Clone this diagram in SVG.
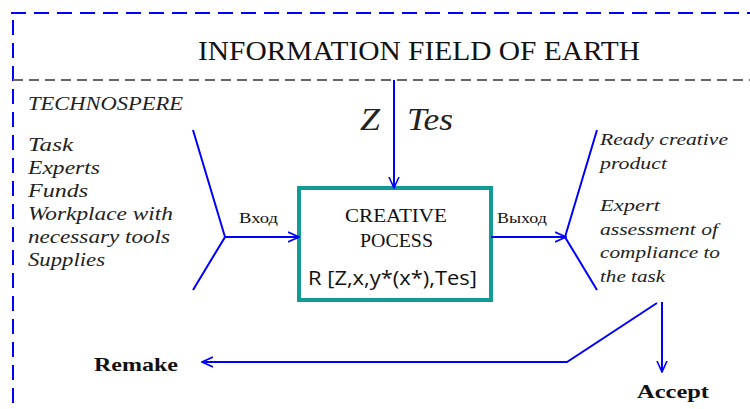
<svg xmlns="http://www.w3.org/2000/svg" width="750" height="409" viewBox="0 0 750 409">
<defs>
<marker id="arr" viewBox="0 0 12 12" refX="11" refY="6" markerWidth="12" markerHeight="12" markerUnits="userSpaceOnUse" orient="auto">
<path d="M0,1 L11,6 L0,11" fill="none" stroke="#0000ff" stroke-width="1.6"/>
</marker>
</defs>
<style>
.blue{stroke:#0000ff;stroke-width:2;fill:none}
.it{font-family:"Liberation Serif",serif;font-style:italic;fill:#222}
.ser{font-family:"Liberation Serif",serif;fill:#111}
</style>
<rect width="750" height="409" fill="#fff"/>
<g id="frames">
<path d="M11,13 H750" stroke="#0000ff" stroke-width="2" stroke-dasharray="15,8" fill="none"/>
<path d="M13,20 V409" stroke="#0000ff" stroke-width="2" stroke-dasharray="15,8" fill="none"/>
<path d="M13,80 H750" stroke="#666" stroke-width="2" stroke-dasharray="10,6" fill="none"/>
</g>
<g id="title"><text class="ser" x="198" y="60" font-size="28" textLength="442" lengthAdjust="spacingAndGlyphs">INFORMATION FIELD OF EARTH</text></g>
<g id="technosphere">
<text class="it" x="28" y="110" font-size="19" fill="#444" textLength="155" lengthAdjust="spacingAndGlyphs">TECHNOSPERE</text>
<text class="it" x="28" y="151" font-size="19" textLength="45" lengthAdjust="spacingAndGlyphs">Task</text>
<text class="it" x="28" y="174" font-size="19" textLength="72" lengthAdjust="spacingAndGlyphs">Experts</text>
<text class="it" x="28" y="197" font-size="19" textLength="60" lengthAdjust="spacingAndGlyphs">Funds</text>
<text class="it" x="28" y="220" font-size="19" textLength="145" lengthAdjust="spacingAndGlyphs">Workplace with</text>
<text class="it" x="28" y="243" font-size="19" textLength="142" lengthAdjust="spacingAndGlyphs">necessary tools</text>
<text class="it" x="28" y="266" font-size="19" textLength="77" lengthAdjust="spacingAndGlyphs">Supplies</text>
</g>
<g id="inputs"><text class="it" x="360" y="130" font-size="32" fill="#111" textLength="20" lengthAdjust="spacingAndGlyphs">Z</text><text class="it" x="407" y="130" font-size="32" fill="#111" textLength="46" lengthAdjust="spacingAndGlyphs">Tes</text></g>
<g id="process">
<rect x="299" y="188" width="192" height="112" fill="#fff" stroke="#139a94" stroke-width="4"/>
<text class="ser" x="345" y="222" font-size="18" fill="#555" textLength="102" lengthAdjust="spacingAndGlyphs">CREATIVE</text>
<text class="ser" x="360" y="247" font-size="18" fill="#555" textLength="73" lengthAdjust="spacingAndGlyphs">POCESS</text>
<text x="308" y="285" font-family="'Open Sans','Liberation Sans',sans-serif" font-size="20" fill="#111" textLength="169" lengthAdjust="spacingAndGlyphs">R [Z,x,y*(x*),Tes]</text>
</g>
<g id="outputs">
<text class="it" x="600" y="145" font-size="17" textLength="128" lengthAdjust="spacingAndGlyphs">Ready creative</text>
<text class="it" x="600" y="169" font-size="17" textLength="67" lengthAdjust="spacingAndGlyphs">product</text>
<text class="it" x="600" y="211" font-size="17" textLength="60" lengthAdjust="spacingAndGlyphs">Expert</text>
<text class="it" x="600" y="235" font-size="17" textLength="118" lengthAdjust="spacingAndGlyphs">assessment of</text>
<text class="it" x="600" y="258" font-size="17" textLength="120" lengthAdjust="spacingAndGlyphs">compliance to</text>
<text class="it" x="600" y="282" font-size="17" textLength="65" lengthAdjust="spacingAndGlyphs">the task</text>
</g>
<g id="remake"><text class="ser" x="94" y="371" font-size="19" font-weight="bold" textLength="84" lengthAdjust="spacingAndGlyphs">Remake</text></g>
<g id="accept"><text class="ser" x="637" y="398" font-size="19" font-weight="bold" textLength="72" lengthAdjust="spacingAndGlyphs">Accept</text></g>
<g id="connectors">
<path class="blue" d="M193,130 L225,237 L193,290"/>
<path class="blue" d="M225,237 H299" marker-end="url(#arr)"/>
<text class="ser" x="239" y="223" font-size="15" textLength="39" lengthAdjust="spacingAndGlyphs">Вход</text>
<path class="blue" d="M394,80 V188" marker-end="url(#arr)"/>
<path class="blue" d="M491,237 H566" marker-end="url(#arr)"/>
<text class="ser" x="497" y="223" font-size="15" textLength="50" lengthAdjust="spacingAndGlyphs">Выход</text>
<path class="blue" d="M597,130 L565,237 L597,290"/>
<path class="blue" d="M657,303 L567,362 H202" marker-end="url(#arr)"/>
<path class="blue" d="M662,302 V372" marker-end="url(#arr)"/>
</g>
</svg>
